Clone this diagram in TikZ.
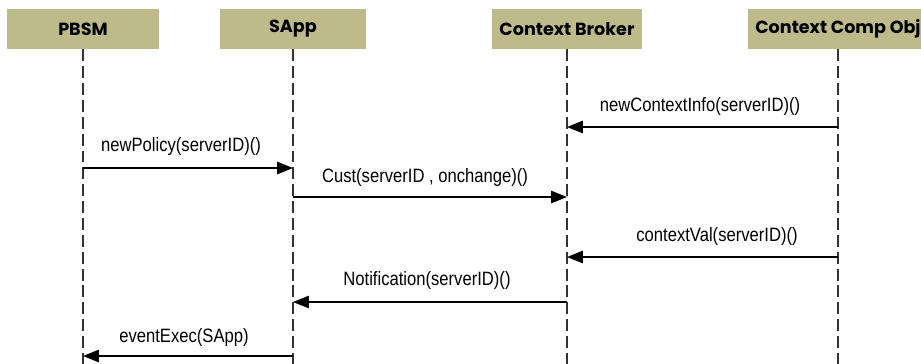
\documentclass[tikz,border=0pt]{standalone}
\usepackage{fontspec}
\usetikzlibrary{arrows.meta}
\newfontfamily\headfont{Poppins}
\newfontfamily\msgfont[FakeStretch=0.86]{Liberation Sans}
\definecolor{khaki}{RGB}{190,187,138}
\tikzset{
  actor/.style={fill=khaki,minimum width=86pt,minimum height=22.7pt,inner sep=0pt,font=\headfont\bfseries\fontsize{10}{12}\selectfont},
  life/.style={black!80,line width=0.6pt,dash pattern=on 6.8pt off 2.8pt},
  msg/.style={line width=0.85pt,-{Triangle[length=9pt,width=7pt]}},
  lbl/.style={font=\msgfont\fontsize{11}{13}\selectfont,inner sep=1pt}
}
\begin{document}
\begin{tikzpicture}[x=0.02cm,y=-0.02cm]
\useasboundingbox (0,0) rectangle (921,363);
%---------------------------------------------------
\node[actor] (pbsm) at (83,29) {PBSM};
\node[actor,minimum width=83pt] (sapp) at (293,29) {SApp};
\node[actor,minimum width=85.6pt] (broker) at (567,29) {Context Broker};
\node[actor,minimum width=102pt] (comp) at (838,29) {Context Comp Obj};
%---------------------------------------------------
\coordinate (pbsm-end) at (83,370);
\coordinate (sapp-end) at (293,370);
\coordinate (broker-end) at (567,370);
\coordinate (comp-end) at (838,370);
\draw[life] (pbsm.south) -- (pbsm-end);
\draw[life] (sapp.south) -- (sapp-end);
\draw[life] (broker.south) -- (broker-end);
\draw[life] (comp.south) -- (comp-end);
%---------------------------------------------------
\coordinate (comp-1) at (838,127);   \coordinate (broker-1) at (567,127);
\coordinate (pbsm-2) at (83,168);    \coordinate (sapp-2) at (293,168);
\coordinate (sapp-3) at (293,197);   \coordinate (broker-3) at (567,197);
\coordinate (comp-4) at (838,257);   \coordinate (broker-4) at (567,257);
\coordinate (broker-5) at (567,302); \coordinate (sapp-5) at (293,302);
\coordinate (sapp-6) at (293,356);   \coordinate (pbsm-6) at (83,356);
%---------------------------------------------------
\draw[msg] (comp-1) -- (broker-1);
\node[lbl] (info) at (700,106) {newContextInfo(serverID)()};
\draw[msg] (pbsm-2) -- (sapp-2);
\node[lbl] (policy) at (181,146) {newPolicy(serverID)()};
\draw[msg] (sapp-3) -- (broker-3);
\node[lbl] (cust) at (425,177) {Cust(serverID , onchange)()};
\draw[msg] (comp-4) -- (broker-4);
\node[lbl] (val) at (717,236) {contextVal(serverID)()};
\draw[msg] (broker-5) -- (sapp-5);
\node[lbl] (notif) at (427,280) {Notification(serverID)()};
\draw[msg] (sapp-6) -- (pbsm-6);
\node[lbl] (exec) at (184,337) {eventExec(SApp)};
\end{tikzpicture}
\end{document}
